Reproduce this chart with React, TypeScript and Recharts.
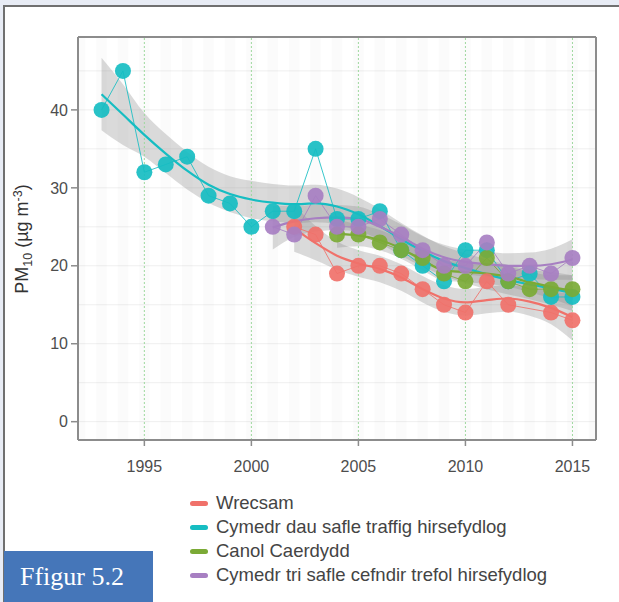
import React from 'react';
import {
    ComposedChart, Line, Area, XAxis, YAxis, CartesianGrid, ReferenceLine, ReferenceArea
} from 'recharts';

// PM10 annual means, 1993-2015
const YEARS = [1993, 1994, 1995, 1996, 1997, 1998, 1999, 2000, 2001, 2002, 2003, 2004,
    2005, 2006, 2007, 2008, 2009, 2010, 2011, 2012, 2013, 2014, 2015];

const WRECSAM = [null, null, null, null, null, null, null, null, null, 25, 24, 19,
    20, 20, 19, 17, 15, 14, 18, 15, null, 14, 13];
const TRAFFIG = [40, 45, 32, 33, 34, 29, 28, 25, 27, 27, 35, 26,
    26, 27, 22, 20, 18, 22, 22, 18, 19, 16, 16];
const CAERDYDD = [null, null, null, null, null, null, null, null, null, null, null, 24,
    24, 23, 22, 21, 19, 18, 21, 18, 17, 17, 17];
const CEFNDIR = [null, null, null, null, null, null, null, null, 25, 24, 29, 25,
    25, 26, 24, 22, 20, 20, 23, 19, 20, 19, 21];

// loess fits and their confidence bands
const WRECSAM_FIT = [null, null, null, null, null, null, null, null, null, 24.8, 22.9, 21.3,
    20.3, 19.6, 18.5, 17.0, 15.8, 15.3, 15.6, 15.8, 15.4, 14.6, 13.4];
const WRECSAM_LO = [null, null, null, null, null, null, null, null, null, 21.8, 20.7, 19.5,
    18.6, 17.9, 16.8, 15.3, 14.1, 13.6, 13.9, 14.1, 13.6, 12.5, 10.4];
const WRECSAM_HI = [null, null, null, null, null, null, null, null, null, 27.8, 25.1, 23.1,
    22.0, 21.3, 20.2, 18.7, 17.5, 17.0, 17.3, 17.5, 17.2, 16.7, 16.4];

const TRAFFIG_FIT = [42.0, 39.4, 36.8, 34.4, 32.2, 30.4, 29.2, 28.5, 28.1, 27.9, 28.0, 27.6,
    26.6, 25.1, 23.4, 21.9, 20.6, 19.7, 18.9, 18.2, 17.6, 17.1, 16.5];
const TRAFFIG_LO = [37.4, 35.5, 34.0, 31.9, 29.8, 28.1, 26.9, 26.1, 25.7, 25.5, 25.6, 25.3,
    24.4, 22.9, 21.3, 19.9, 18.7, 17.8, 17.0, 16.3, 15.7, 15.0, 14.2];
const TRAFFIG_HI = [46.7, 43.3, 39.6, 36.9, 34.6, 32.7, 31.5, 30.9, 30.5, 30.3, 30.4, 29.9,
    28.8, 27.3, 25.5, 23.9, 22.5, 21.6, 20.8, 20.1, 19.5, 19.2, 18.8];

const CAERDYDD_FIT = [null, null, null, null, null, null, null, null, null, null, null, 24.1,
    23.9, 23.3, 22.2, 20.7, 19.4, 19.2, 19.0, 18.6, 17.9, 17.3, 16.8];
const CAERDYDD_LO = [null, null, null, null, null, null, null, null, null, null, null, 22.3,
    22.5, 22.0, 20.9, 19.4, 18.1, 17.9, 17.7, 17.3, 16.6, 15.8, 14.8];
const CAERDYDD_HI = [null, null, null, null, null, null, null, null, null, null, null, 25.9,
    25.3, 24.6, 23.5, 22.0, 20.7, 20.5, 20.3, 19.9, 19.2, 18.8, 18.8];

const CEFNDIR_FIT = [null, null, null, null, null, null, null, null, 24.9, 25.7, 26.1, 26.2,
    26.0, 25.0, 23.7, 22.2, 21.1, 20.5, 20.2, 20.0, 20.0, 20.2, 20.8];
const CEFNDIR_LO = [null, null, null, null, null, null, null, null, 22.1, 23.7, 24.4, 24.6,
    24.4, 23.4, 22.1, 20.6, 19.5, 18.9, 18.6, 18.4, 18.3, 18.2, 18.2];
const CEFNDIR_HI = [null, null, null, null, null, null, null, null, 27.7, 27.7, 27.8, 27.8,
    27.6, 26.6, 25.3, 23.8, 22.7, 22.1, 21.8, 21.6, 21.7, 22.2, 23.4];

const X_TICKS = [1995, 2000, 2005, 2010, 2015];
const Y_TICKS = [0, 10, 20, 30, 40];
const Y_GRID = [0, 5, 10, 15, 20, 25, 30, 35, 40, 45];
const STRIPES = [1992, 1993, 1994, 1995, 1996, 1997, 1998, 1999, 2000, 2001, 2002, 2003, 2004,
    2005, 2006, 2007, 2008, 2009, 2010, 2011, 2012, 2013, 2014, 2015, 2016];

const SERIES = [
    { key: 'wrec', name: 'Wrecsam', color: '#F0716A' },
    { key: 'traf', name: 'Cymedr dau safle traffig hirsefydlog', color: '#16BDC2' },
    { key: 'card', name: 'Canol Caerdydd', color: '#7BAA36' },
    { key: 'cef', name: 'Cymedr tri safle cefndir trefol hirsefydlog', color: '#A77FC2' },
];

const band = (lo: (number | null)[], hi: (number | null)[], i: number) =>
    lo[i] == null || hi[i] == null ? undefined : [lo[i], hi[i]];

const rows = YEARS.map((year, i) => ({
    year,
    wrec: WRECSAM[i], traf: TRAFFIG[i], card: CAERDYDD[i], cef: CEFNDIR[i],
    wrecFit: WRECSAM_FIT[i], trafFit: TRAFFIG_FIT[i], cardFit: CAERDYDD_FIT[i], cefFit: CEFNDIR_FIT[i],
    wrecBand: band(WRECSAM_LO, WRECSAM_HI, i),
    trafBand: band(TRAFFIG_LO, TRAFFIG_HI, i),
    cardBand: band(CAERDYDD_LO, CAERDYDD_HI, i),
    cefBand: band(CEFNDIR_LO, CEFNDIR_HI, i),
}));

const FONT = '"Liberation Sans", Arial, sans-serif';
const AXIS = '#8c8c8c';
const X_DOMAIN = [1991.9, 2016.1];
const Y_DOMAIN = [-2.35, 49.35];

const App: React.FC = () => {
    return (
        <div style={{ position: 'absolute', left: 0, top: 0, width: 619, height: 602, overflow: 'hidden', background: '#e8ecf5', fontFamily: FONT }}>
            {/* white page panel */}
            <div style={{ position: 'absolute', left: 3, top: 5, width: 630, height: 610, background: '#fff', borderLeft: '2px solid #707070', borderTop: '2px solid #707070' }} />

            <div style={{ position: 'absolute', left: 0, top: 0 }}>
                <ComposedChart width={619} height={480} data={rows} margin={{ top: 30, right: 0, bottom: 0, left: 0 }}>
                    {STRIPES.map(s => (
                        <ReferenceArea key={s} x1={s - 0.25} x2={s + 0.25} fill="#000" fillOpacity={0.014}
                            stroke="none" ifOverflow="hidden" />
                    ))}
                    <CartesianGrid horizontalValues={Y_GRID} vertical={false} stroke="#efefef" />
                    {X_TICKS.map(t => (
                        <ReferenceLine key={t} x={t} stroke="#9ed89e" strokeDasharray="2 2" strokeWidth={1} />
                    ))}

                    <XAxis type="number" dataKey="year" domain={X_DOMAIN} ticks={X_TICKS} allowDataOverflow
                        height={40} tickSize={6} tickMargin={15} stroke={AXIS} strokeWidth={2}
                        tickLine={{ stroke: AXIS, strokeWidth: 1.5 }}
                        tick={{ fill: '#4d4d4d', fontSize: 16, fontFamily: FONT }} />
                    <XAxis xAxisId="top" orientation="top" type="number" dataKey="year" domain={X_DOMAIN}
                        ticks={X_TICKS} allowDataOverflow height={7} tickSize={6} tick={false}
                        stroke={AXIS} strokeWidth={2} tickLine={{ stroke: AXIS, strokeWidth: 1.5 }} />
                    <YAxis type="number" domain={Y_DOMAIN} ticks={Y_TICKS} allowDataOverflow width={78}
                        tickSize={7} tickMargin={3} stroke={AXIS} strokeWidth={2}
                        tickLine={{ stroke: AXIS, strokeWidth: 1.5 }}
                        tick={{ fill: '#4d4d4d', fontSize: 16, fontFamily: FONT }} />
                    <YAxis yAxisId="r" orientation="right" type="number" domain={Y_DOMAIN} ticks={Y_TICKS}
                        allowDataOverflow width={23} tickSize={7} tick={false} stroke={AXIS} strokeWidth={2}
                        tickLine={{ stroke: AXIS, strokeWidth: 1.5 }} />

                    {/* observed annual means */}
                    {SERIES.map(s => (
                        <Line key={s.key} dataKey={s.key} stroke={s.color} strokeWidth={1} strokeOpacity={0.85}
                            connectNulls isAnimationActive={false} activeDot={false}
                            dot={{ r: 8, fill: s.color, stroke: 'none', fillOpacity: 0.92 }} />
                    ))}

                    {/* smoothed trend with confidence band */}
                    {SERIES.map(s => (
                        <Area key={s.key + 'Band'} dataKey={s.key + 'Band'} type="monotone" fill="#8f8f8f"
                            fillOpacity={0.33} stroke="none" isAnimationActive={false} activeDot={false} />
                    ))}
                    {SERIES.map(s => (
                        <Line key={s.key + 'Fit'} dataKey={s.key + 'Fit'} type="monotone" stroke={s.color}
                            strokeWidth={2.2} dot={false} activeDot={false} isAnimationActive={false} />
                    ))}
                </ComposedChart>
            </div>

            {/* y axis title */}
            <svg style={{ position: 'absolute', left: 0, top: 139 }} width={40} height={200}>
                <text transform="translate(28,100) rotate(-90)" textAnchor="middle" fill="#333" fontSize={18} fontFamily={FONT}>
                    PM<tspan fontSize={12.5} dy={4}>10</tspan><tspan dy={-4}> (µg m</tspan><tspan fontSize={12.5} dy={-6}>-3</tspan><tspan dy={6}>)</tspan>
                </text>
            </svg>

            {/* legend */}
            <div style={{ position: 'absolute', left: 190, top: 491 }}>
                {SERIES.map(s => (
                    <div key={s.key} style={{ display: 'flex', alignItems: 'center', height: 24 }}>
                        <span style={{ width: 18, height: 5, borderRadius: 3, background: s.color, marginRight: 8 }} />
                        <span style={{ fontSize: 18.5, color: '#444' }}>{s.name}</span>
                    </div>
                ))}
            </div>

            {/* figure tag */}
            <div style={{ position: 'absolute', left: 4, top: 551, width: 149, height: 51, background: '#4576b9', color: '#fff', fontFamily: '"Liberation Serif", "DejaVu Serif", serif', fontSize: 26, lineHeight: '51px', paddingLeft: 16, boxSizing: 'border-box' }}>
                Ffigur 5.2
            </div>
        </div>
    );
};

export default App;
